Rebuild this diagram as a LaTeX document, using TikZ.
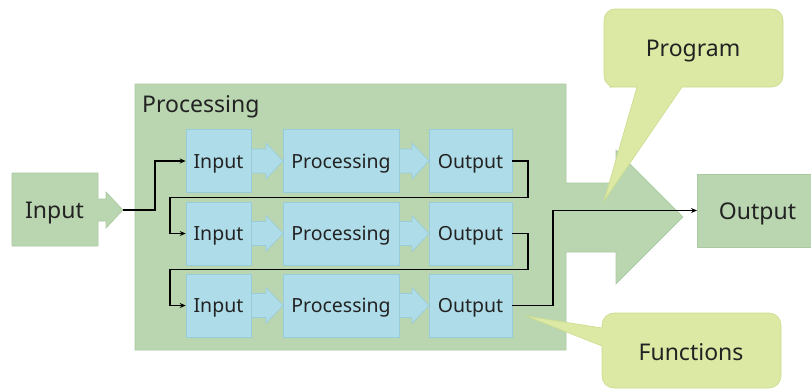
\documentclass[tikz,border=0pt]{standalone}
\usepackage{fontspec}
\setmainfont{Noto Sans}
\usetikzlibrary{arrows.meta}
\definecolor{gfill}{HTML}{BAD6B1}
\definecolor{gline}{HTML}{A9C9A0}
\definecolor{bfill}{HTML}{AEDCE8}
\definecolor{bline}{HTML}{98CCDA}
\definecolor{cfill}{HTML}{DCE9A5}
\definecolor{cline}{HTML}{CADC8C}
\definecolor{txt}{HTML}{222222}
\begin{document}
\begin{tikzpicture}[x=1pt,y=-1pt,
  gshape/.style={fill=gfill, draw=gline, line width=0.6pt},
  bbox/.style={fill=bfill, draw=bline, line width=0.6pt, minimum height=63pt, inner sep=0pt,
    font=\fontsize{19.5}{22}\selectfont, text=txt, text height=14pt, text depth=0pt},
  barrow/.style={fill=bfill, draw=bline, line width=0.6pt},
  conn/.style={draw=black, line width=1.3pt, -{Stealth[length=6pt,width=5pt]}},
  callout/.style={fill=cfill, draw=cline, line width=0.6pt},
  biglabel/.style={font=\fontsize{23}{26}\selectfont, text=txt, inner sep=0pt,
    text height=16.4pt, text depth=0pt}]
\useasboundingbox (0,0) rectangle (811,389);
\clip (0,0) rectangle (811,389);

% big processing box with arrow
\path[gshape] (135,84) -- (566,84) -- (566,183) -- (616,183) -- (616,150) -- (683,217)
  -- (616,284) -- (616,252) -- (566,252) -- (566,350) -- (135,350) -- cycle;
\node[biglabel, anchor=base west] (ptitle) at (142,112) {Processing};

% left input shape
\path[gshape] (12,173) -- (98,173) -- (98,199) -- (106,199) -- (106,192) -- (123,210)
  -- (106,228) -- (106,221) -- (98,221) -- (98,246) -- (12,246) -- cycle;
\coordinate (inTip) at (123,210);
\node[biglabel] (inL) at (54.5,210.5) {Input};

% right output box
\node[gshape, minimum width=140pt, minimum height=73pt, anchor=west, inner sep=0pt] (outBox) at (697,210.5) {};
\node[biglabel] (outR) at (757.5,211) {Output};

% small blue arrows
\foreach \y in {161,233.5,305.5}{
  \foreach \s/\t in {245/283, 393/429}{
    \path[barrow] (\s,\y-12) -- (\t-17,\y-12) -- (\t-17,\y-18) -- (\t,\y)
      -- (\t-17,\y+18) -- (\t-17,\y+12) -- (\s,\y+12) -- cycle;
  }
}

% blue boxes
\node[bbox, minimum width=65pt]  (i1) at (218.5,161) {Input};
\node[bbox, minimum width=116pt] (p1) at (341,161) {Processing};
\node[bbox, minimum width=83pt]  (o1) at (470.5,161) {Output};
\node[bbox, minimum width=65pt]  (i2) at (218.5,233.5) {Input};
\node[bbox, minimum width=116pt] (p2) at (341,233.5) {Processing};
\node[bbox, minimum width=83pt]  (o2) at (470.5,233.5) {Output};
\node[bbox, minimum width=65pt]  (i3) at (218.5,305.5) {Input};
\node[bbox, minimum width=116pt] (p3) at (341,305.5) {Processing};
\node[bbox, minimum width=83pt]  (o3) at (470.5,305.5) {Output};

% connectors
\draw[conn] (inTip) -- (155,210) |- (i1.west);
\draw[conn] (o1.east) -| (528,197.5) -| (170,233.5) -- (i2.west);
\draw[conn] (o2.east) -| (528,269.5) -| (170,305.5) -- (i3.west);
\draw[conn] (o3.east) -| (553,210.5) -- (outBox.west);

% Program callout
\path[callout] (700,87) [rounded corners=11] -- (783,87) -- (783,9) -- (604,9) -- (604,87)
  -- (620,87) [sharp corners] -- (637,87) -- (604,201) -- (682,87) -- cycle;
\node[biglabel] (prog) at (693,48) {Program};

% Functions callout
\path[callout] (690,388) [rounded corners=12] -- (602,388) -- (602,360) [sharp corners]
  -- (602,346) -- (526,316) -- (602,328) -- (602,327) [rounded corners=12] -- (602,313)
  -- (781,313) -- (781,388) -- cycle;
\node[biglabel] (func) at (691,352) {Functions};
\end{tikzpicture}
\end{document}
